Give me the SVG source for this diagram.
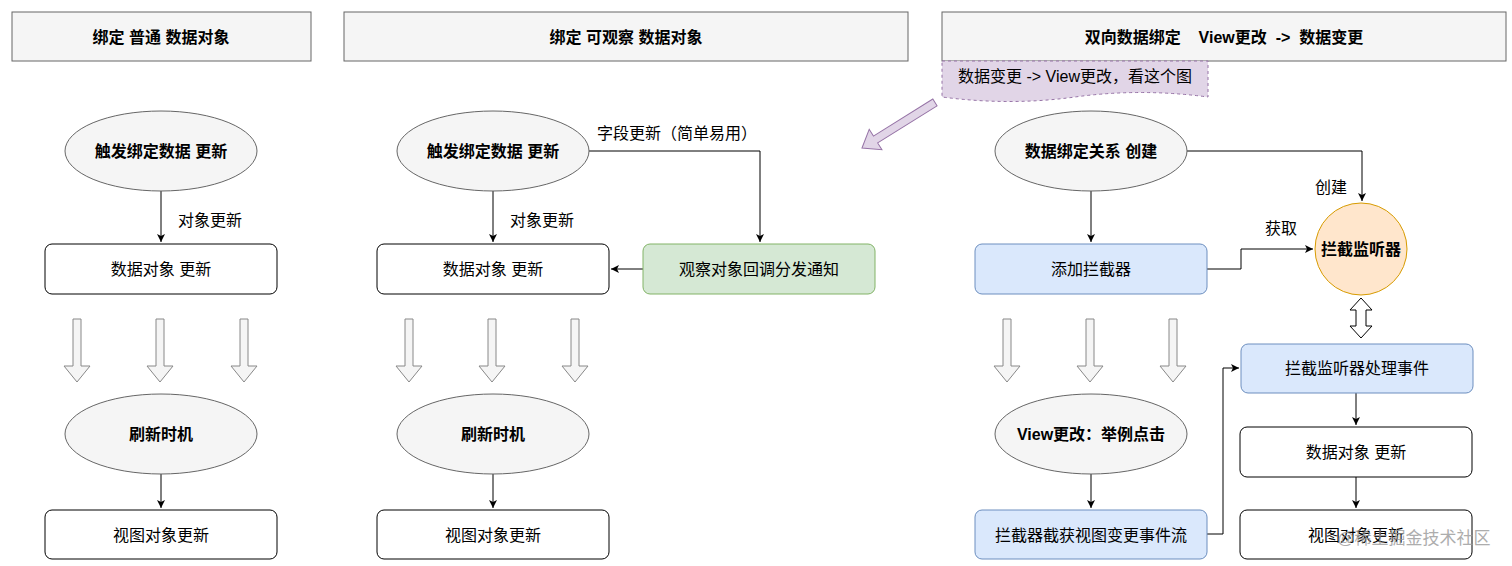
<svg xmlns="http://www.w3.org/2000/svg" width="1512" height="566" viewBox="0 0 1512 566">
<style>
text{font-family:"Liberation Sans","Noto Sans CJK SC",sans-serif;font-size:16px;fill:#000;text-anchor:middle;dominant-baseline:central}
.b{font-weight:bold}
.hdr{fill:#f5f5f5;stroke:#666}
.ell{fill:#f5f5f5;stroke:#666}
.box{fill:#fff;stroke:#000}
.blue{fill:#dae8fc;stroke:#6c8ebf}
.blk{fill:#f5f5f5;stroke:#888}
.ln{fill:none;stroke:#000;stroke-width:1}
</style>
<defs>
<marker id="a" markerWidth="10" markerHeight="10" refX="8" refY="5" orient="auto" markerUnits="userSpaceOnUse"><path d="M0,1 L8,5 L0,9 L2,5 Z" fill="#000"/></marker>
<path id="down" d="M-4,0 H4 V47 H13 L0,63 L-13,47 H-4 Z"/>
</defs>
<rect width="1512" height="566" fill="#fff"/>
<g id="h1"><rect class="hdr" x="12" y="12" width="299" height="49"/><text class="b" x="161" y="37">绑定 普通 数据对象</text></g>
<g id="h2"><rect class="hdr" x="344" y="12" width="564" height="49"/><text class="b" x="626" y="37">绑定 可观察 数据对象</text></g>
<g id="h3"><rect class="hdr" x="942" y="12" width="564" height="49"/><text class="b" x="1224" y="37" xml:space="preserve" style="white-space:pre">双向数据绑定    View更改  -&gt;  数据变更</text></g>
<g id="note"><path d="M942,61 H1208 V97 Q1140,88 1075,97 Q1010,106 942,97 Z" fill="#e1d5e7" stroke="#9673a6" stroke-dasharray="3 3"/><text x="1075" y="76">数据变更 -&gt; View更改，看这个图</text></g>
<g transform="translate(862,148) rotate(-32)"><path d="M0,0 L16,-12 L16,-4 L86,-4 L86,4 L16,4 L16,12 Z" fill="#e1d5e7" stroke="#9673a6"/></g>
<g id="connectors">
<path class="ln" d="M161,191 V242" marker-end="url(#a)"/>
<path class="ln" d="M161,474 V508" marker-end="url(#a)"/>
<path class="ln" d="M493,191 V242" marker-end="url(#a)"/>
<path class="ln" d="M493,474 V508" marker-end="url(#a)"/>
<path class="ln" d="M589,151 H760 V242" marker-end="url(#a)"/>
<path class="ln" d="M643,269 H611" marker-end="url(#a)"/>
<path class="ln" d="M1091,191 V242" marker-end="url(#a)"/>
<path class="ln" d="M1091,474 V508" marker-end="url(#a)"/>
<path class="ln" d="M1187,151 H1362 V201" marker-end="url(#a)"/>
<path class="ln" d="M1207,269 H1241 V249 H1313" marker-end="url(#a)"/>
<path class="ln" d="M1207,534 H1223 V368 H1239" marker-end="url(#a)"/>
<path class="ln" d="M1356,393 V425" marker-end="url(#a)"/>
<path class="ln" d="M1356,477 V508" marker-end="url(#a)"/>
<path d="M1361,298 L1372,310 H1366 V326 H1372 L1361,338 L1350,326 H1356 V310 H1350 Z" fill="#fff" stroke="#000"/>
<g class="blk">
<use href="#down" x="77" y="319"/><use href="#down" x="160" y="319"/><use href="#down" x="244" y="319"/>
<use href="#down" x="409" y="319"/><use href="#down" x="492" y="319"/><use href="#down" x="575" y="319"/>
<use href="#down" x="1007" y="319"/><use href="#down" x="1090" y="319"/><use href="#down" x="1173" y="319"/>
</g>
<text x="210" y="220">对象更新</text>
<text x="542" y="220">对象更新</text>
<text x="677" y="133">字段更新（简单易用）</text>
<text x="1331" y="187">创建</text>
<text x="1281" y="228">获取</text>
</g>
<g id="c1e1"><ellipse class="ell" cx="161" cy="151" rx="96" ry="40"/><text class="b" x="161" y="151">触发绑定数据 更新</text></g>
<g id="c1b1"><rect class="box" x="45" y="244" width="232" height="50" rx="7"/><text x="161" y="269">数据对象 更新</text></g>
<g id="c1e2"><ellipse class="ell" cx="161" cy="434" rx="96" ry="40"/><text class="b" x="161" y="434">刷新时机</text></g>
<g id="c1b2"><rect class="box" x="45" y="510" width="232" height="49" rx="7"/><text x="161" y="535">视图对象更新</text></g>
<g id="c2e1"><ellipse class="ell" cx="493" cy="151" rx="96" ry="40"/><text class="b" x="493" y="151">触发绑定数据 更新</text></g>
<g id="c2b1"><rect class="box" x="377" y="244" width="232" height="50" rx="7"/><text x="493" y="269">数据对象 更新</text></g>
<g id="c2g"><rect x="643" y="244" width="232" height="50" rx="7" fill="#d5e8d4" stroke="#82b366"/><text x="759" y="269">观察对象回调分发通知</text></g>
<g id="c2e2"><ellipse class="ell" cx="493" cy="434" rx="96" ry="40"/><text class="b" x="493" y="434">刷新时机</text></g>
<g id="c2b2"><rect class="box" x="377" y="510" width="232" height="49" rx="7"/><text x="493" y="535">视图对象更新</text></g>
<g id="c3e1"><ellipse class="ell" cx="1091" cy="151" rx="96" ry="40"/><text class="b" x="1091" y="151">数据绑定关系 创建</text></g>
<g id="c3b1"><rect class="blue" x="975" y="244" width="232" height="50" rx="7"/><text x="1091" y="269">添加拦截器</text></g>
<g id="c3c"><circle cx="1361" cy="249" r="46" fill="#ffe6cc" stroke="#d79b00"/><text class="b" x="1361" y="249">拦截监听器</text></g>
<g id="c3b2"><rect class="blue" x="1241" y="344" width="232" height="49" rx="7"/><text x="1357" y="368">拦截监听器处理事件</text></g>
<g id="c3b3"><rect class="box" x="1240" y="427" width="232" height="50" rx="7"/><text x="1356" y="452">数据对象 更新</text></g>
<g id="c3b4"><rect class="box" x="1240" y="510" width="232" height="49" rx="7"/><text x="1356" y="535">视图对象更新</text></g>
<g id="c3e2"><ellipse class="ell" cx="1091" cy="434" rx="96" ry="40"/><text class="b" x="1091" y="434">View更改：举例点击</text></g>
<g id="c3b5"><rect class="blue" x="975" y="510" width="232" height="49" rx="7"/><text x="1091" y="535">拦截器截获视图变更事件流</text></g>
<text x="1414" y="538" style="fill:#999;font-size:17px;opacity:0.8">@稀土掘金技术社区</text>
</svg>
